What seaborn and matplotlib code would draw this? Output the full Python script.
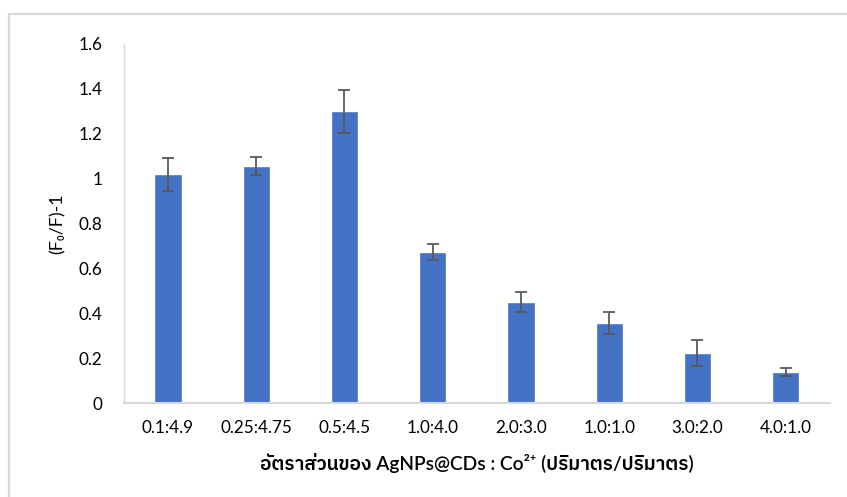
import matplotlib
matplotlib.use("Agg")
import matplotlib.pyplot as plt
from matplotlib import font_manager as fm
from matplotlib.ft2font import FT2Font
from matplotlib.patches import Rectangle
import seaborn as sns
import pandas as pd

# Mixing ratio of AgNPs@CDs to Co2+ (v/v) and the quenching response (F0/F)-1
ratios = ["0.1:4.9", "0.25:4.75", "0.5:4.5", "1.0:4.0", "2.0:3.0", "1.0:1.0", "3.0:2.0", "4.0:1.0"]
response = [1.02, 1.055, 1.30, 0.673, 0.450, 0.357, 0.221, 0.138]
response_err = [0.074, 0.040, 0.096, 0.036, 0.046, 0.049, 0.058, 0.016]
y_ticks = [0, 0.2, 0.4, 0.6, 0.8, 1.0, 1.2, 1.4, 1.6]
y_tick_labels = ["0", "0.2", "0.4", "0.6", "0.8", "1", "1.2", "1.4", "1.6"]
x_title = "อัตราส่วนของ AgNPs@CDs : Co²⁺ (ปริมาตร/ปริมาตร)"
y_title = "(F₀/F)-1"


def find_thai_family():
    """Return the name of an installed family that carries Thai glyphs."""
    preferred = []
    others = []
    for f in fm.fontManager.ttflist:
        try:
            cmap = FT2Font(f.fname).get_charmap()
        except Exception:
            continue
        if 0x0E2D in cmap and 0x0E31 in cmap:
            if "Thai" in f.name or "Sans" in f.name:
                preferred.append(f.name)
            else:
                others.append(f.name)
    for names in (preferred, others):
        if names:
            return names[0]
    return None


sns.set_theme(style="white")
thai = find_thai_family()
families = ["Lato"] + ([thai] if thai else []) + ["DejaVu Sans"]
plt.rcParams["font.family"] = families

df = pd.DataFrame({"ratio": ratios, "value": response, "err": response_err})

fig = plt.figure(figsize=(8.47, 4.97), dpi=100)
ax = fig.add_axes([0.1462, 0.1891, 0.9797 - 0.1462, 0.9115 - 0.1891])

sns.barplot(data=df, x="ratio", y="value", color="#4472C4", saturation=1,
            width=0.31, errorbar=None, ax=ax, zorder=2)
ax.errorbar(range(len(df)), df["value"], yerr=df["err"], fmt="none",
            ecolor="#595959", elinewidth=1.3, capsize=4.3, capthick=1.3, zorder=3)

ax.set_xlim(-0.5, len(ratios) - 0.5)
ax.set_ylim(0, 1.6)
ax.set_yticks(y_ticks)
ax.set_yticklabels(y_tick_labels)

for side in ("top", "right"):
    ax.spines[side].set_visible(False)
ax.spines["left"].set_color("#d9d9d9")
ax.spines["left"].set_linewidth(1.0)
ax.spines["bottom"].set_color("#d9d9d9")
ax.spines["bottom"].set_linewidth(1.5)

ax.tick_params(axis="y", direction="in", length=4.3, width=1.0, color="#d9d9d9",
               pad=15.5, labelsize=12.3, labelcolor="#000000")
ax.tick_params(axis="x", length=0, pad=12.5, labelsize=12.3, labelcolor="#000000")

ax.set_xlabel("")
ax.set_ylabel(y_title, fontsize=12.8, color="#000000", labelpad=9)
fig.text(0.5635, 1 - 463 / 497, x_title, ha="center", va="center",
         fontsize=13.8, fontweight="semibold", color="#000000")

# Light frame around the chart area
fig.add_artist(Rectangle((8.5 / 847, -0.1), 1.2, (497 - 14) / 497 + 0.1,
                         transform=fig.transFigure, fill=False,
                         edgecolor="#d9d9d9", linewidth=1.6))

fig.savefig("out.png", dpi=100)
